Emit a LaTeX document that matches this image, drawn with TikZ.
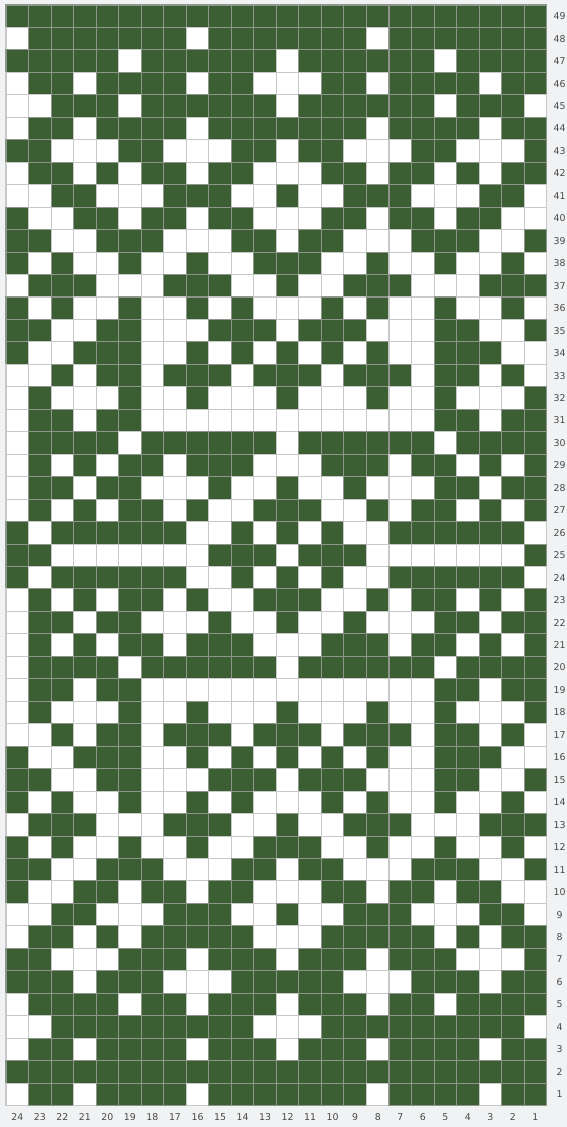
\documentclass[tikz,border=0pt]{standalone}
\usepackage{fontspec}
\setmainfont{DejaVu Sans}
\usepackage{xcolor}
\usepackage{tikz}
\usetikzlibrary{positioning}
\definecolor{cKnit}{RGB}{59,94,51}
\definecolor{cBack}{RGB}{241,242,244}
\definecolor{cEdgeK}{RGB}{142,150,140}
\definecolor{cEdgeP}{RGB}{200,200,200}
\definecolor{cNum}{RGB}{72,72,72}
\newcommand{\cw}{22.53}
\newcommand{\ch}{22.46}

\begin{document}
\begin{tikzpicture}[
   x=0.03cm,y=-0.03cm,
   knit/.style={fill=cKnit,draw=cEdgeK,line width=0.9pt},
   purl/.style={fill=white,draw=cEdgeP,line width=0.9pt},
   colnum/.style={font=\fontsize{8}{9}\selectfont,text=cNum,inner sep=0pt},
   rownum/.style={font=\fontsize{8}{9}\selectfont,text=cNum,inner sep=0pt}]
  \fill[cBack] (0,0) rectangle (567,1127);
  % chart rows, read from col 24 (left) to col 1 (right)
  \foreach \r/\cells in {
    49/{1,1,1,1,1,1,1,1,1,1,1,1,1,1,1,1,1,1,1,1,1,1,1,1},
    48/{0,1,1,1,1,1,1,1,0,1,1,1,1,1,1,1,0,1,1,1,1,1,1,1},
    47/{1,1,1,1,1,0,1,1,1,1,1,1,0,1,1,1,1,1,1,0,1,1,1,1},
    46/{0,1,1,0,1,1,1,1,0,1,1,0,0,0,1,1,0,1,1,1,1,0,1,1},
    45/{0,0,1,1,1,0,1,1,1,1,1,1,0,1,1,1,1,1,1,0,1,1,1,0},
    44/{0,1,1,0,1,1,1,1,0,1,1,1,1,1,1,1,0,1,1,1,1,0,1,1},
    43/{1,1,0,0,0,1,1,0,0,0,1,1,0,1,1,0,0,0,1,1,0,0,0,1},
    42/{0,1,1,0,1,0,1,1,0,1,1,0,0,0,1,1,0,1,1,0,1,0,1,1},
    41/{0,0,1,1,0,0,0,1,1,1,0,0,1,0,0,1,1,1,0,0,0,1,1,0},
    40/{1,0,0,1,1,0,1,1,0,1,1,0,0,0,1,1,0,1,1,0,1,1,0,0},
    39/{1,1,0,0,1,1,1,0,0,0,1,1,0,1,1,0,0,0,1,1,1,0,0,1},
    38/{1,0,1,0,0,1,0,0,1,0,0,1,1,1,0,0,1,0,0,1,0,0,1,0},
    37/{0,1,1,1,0,0,0,1,1,1,0,0,1,0,0,1,1,1,0,0,0,1,1,1},
    36/{1,0,1,0,0,1,0,0,1,0,1,0,0,0,1,0,1,0,0,1,0,0,1,0},
    35/{1,1,0,0,1,1,0,0,0,1,1,1,0,1,1,1,0,0,0,1,1,0,0,1},
    34/{1,0,0,1,1,1,0,0,1,0,1,0,1,0,1,0,1,0,0,1,1,1,0,0},
    33/{0,0,1,0,1,1,0,1,1,1,0,1,1,1,0,1,1,1,0,1,1,0,1,0},
    32/{0,1,0,0,0,1,0,0,1,0,0,0,1,0,0,0,1,0,0,1,0,0,0,1},
    31/{0,1,1,0,1,1,0,0,0,0,0,0,0,0,0,0,0,0,0,1,1,0,1,1},
    30/{0,1,1,1,1,0,1,1,1,1,1,1,0,1,1,1,1,1,1,0,1,1,1,1},
    29/{0,1,0,1,0,1,1,0,1,1,1,0,0,0,1,1,1,0,1,1,0,1,0,1},
    28/{0,1,1,0,1,1,0,0,0,1,0,0,1,0,0,1,0,0,0,1,1,0,1,1},
    27/{0,1,0,1,0,1,1,0,1,0,0,1,1,1,0,0,1,0,1,1,0,1,0,1},
    26/{1,0,1,1,1,1,1,1,0,0,1,0,1,0,1,0,0,1,1,1,1,1,1,0},
    25/{1,1,0,0,0,0,0,0,0,1,1,1,0,1,1,1,0,0,0,0,0,0,0,1},
    24/{1,0,1,1,1,1,1,1,0,0,1,0,1,0,1,0,0,1,1,1,1,1,1,0},
    23/{0,1,0,1,0,1,1,0,1,0,0,1,1,1,0,0,1,0,1,1,0,1,0,1},
    22/{0,1,1,0,1,1,0,0,0,1,0,0,1,0,0,1,0,0,0,1,1,0,1,1},
    21/{0,1,0,1,0,1,1,0,1,1,1,0,0,0,1,1,1,0,1,1,0,1,0,1},
    20/{0,1,1,1,1,0,1,1,1,1,1,1,0,1,1,1,1,1,1,0,1,1,1,1},
    19/{0,1,1,0,1,1,0,0,0,0,0,0,0,0,0,0,0,0,0,1,1,0,1,1},
    18/{0,1,0,0,0,1,0,0,1,0,0,0,1,0,0,0,1,0,0,1,0,0,0,1},
    17/{0,0,1,0,1,1,0,1,1,1,0,1,1,1,0,1,1,1,0,1,1,0,1,0},
    16/{1,0,0,1,1,1,0,0,1,0,1,0,1,0,1,0,1,0,0,1,1,1,0,0},
    15/{1,1,0,0,1,1,0,0,0,1,1,1,0,1,1,1,0,0,0,1,1,0,0,1},
    14/{1,0,1,0,0,1,0,0,1,0,1,0,0,0,1,0,1,0,0,1,0,0,1,0},
    13/{0,1,1,1,0,0,0,1,1,1,0,0,1,0,0,1,1,1,0,0,0,1,1,1},
    12/{1,0,1,0,0,1,0,0,1,0,0,1,1,1,0,0,1,0,0,1,0,0,1,0},
    11/{1,1,0,0,1,1,1,0,0,0,1,1,0,1,1,0,0,0,1,1,1,0,0,1},
    10/{1,0,0,1,1,0,1,1,0,1,1,0,0,0,1,1,0,1,1,0,1,1,0,0},
     9/{0,0,1,1,0,0,0,1,1,1,0,0,1,0,0,1,1,1,0,0,0,1,1,0},
     8/{0,1,1,0,1,0,1,1,1,1,1,0,0,0,1,1,1,1,1,0,1,0,1,1},
     7/{1,1,0,0,0,1,1,1,0,1,1,1,0,1,1,1,0,1,1,1,0,0,0,1},
     6/{1,1,1,0,1,1,1,0,0,0,1,1,1,1,1,0,0,0,1,1,1,0,1,1},
     5/{0,1,1,1,1,0,1,1,0,1,1,1,0,1,1,1,0,1,1,0,1,1,1,1},
     4/{0,0,1,1,1,1,1,1,1,1,1,0,0,0,1,1,1,1,1,1,1,1,1,0},
     3/{0,1,1,0,1,1,1,1,0,1,1,1,0,1,1,1,0,1,1,1,1,0,1,1},
     2/{1,1,1,1,1,1,1,1,1,1,1,1,1,1,1,1,1,1,1,1,1,1,1,1},
     1/{0,1,1,0,1,1,1,1,0,1,1,1,1,1,1,1,0,1,1,1,1,0,1,1}} {
    \foreach \v [count=\c] in \cells {
      \ifnum\v=1
        \draw[knit] ({6+(\c-1)*\cw},{5+(49-\r)*\ch}) rectangle ++(\cw,\ch);
      \else
        \draw[purl] ({6+(\c-1)*\cw},{5+(49-\r)*\ch}) rectangle ++(\cw,\ch);
      \fi
    }
    \node[rownum] (r\r) at (559.5,{5+(49.5-\r)*\ch}) {\r};
  }
  % column numbers
  \foreach \c in {1,...,24}
    \pgfmathtruncatemacro{\n}{25-\c}
    \node[colnum] (c\n) at ({6+(\c-0.5)*\cw},1117) {\n};
\end{tikzpicture}
\end{document}
